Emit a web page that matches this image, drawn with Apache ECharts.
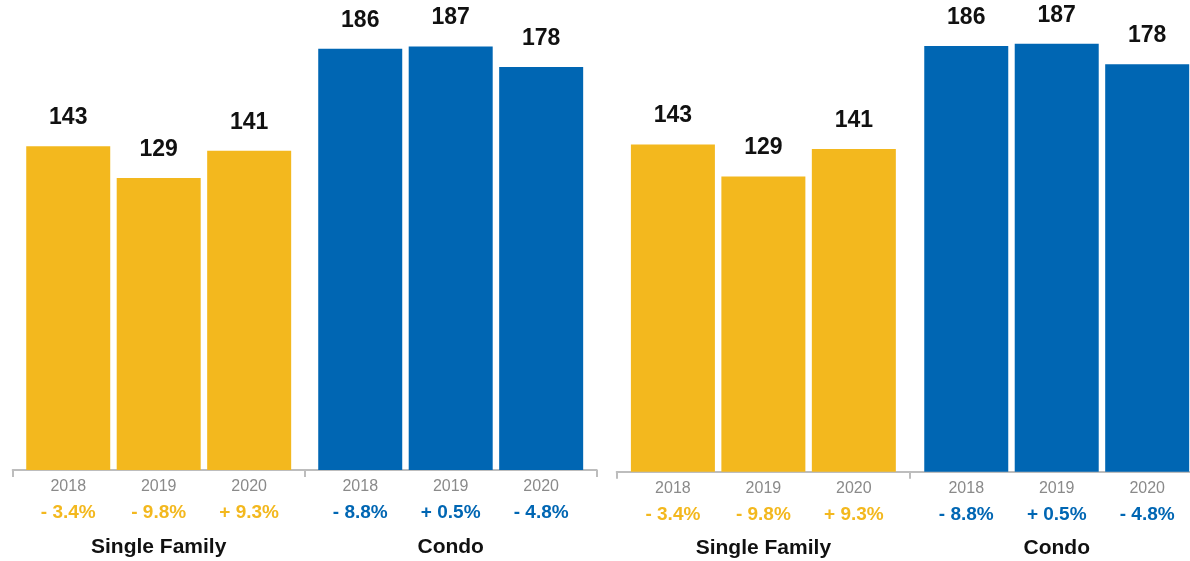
<!DOCTYPE html>
<html>
<head>
<meta charset="utf-8">
<title>Single Family vs Condo</title>
<script src="https://cdn.jsdelivr.net/npm/echarts@6/dist/echarts.min.js"></script>
<style>
  html, body { margin: 0; padding: 0; background: #ffffff; }
  #chart { width: 1190px; height: 561px; }
</style>
</head>
<body>
<div id="chart"></div>
<script>
// Property types along the bottom axis
const categories = ['Single Family', 'Condo'];
// Years shown under each bar
const years = ['2018', '2019', '2020'];
// Bar values per year
const singleFamily = [143, 129, 141];
const condo = [186, 187, 178];
// Year-over-year change labels
const singleFamilyChange = ['- 3.4%', '- 9.8%', '+ 9.3%'];
const condoChange = ['- 8.8%', '+ 0.5%', '- 4.8%'];

const YELLOW = '#F3B81E';
const BLUE = '#0066B3';
const FONT = '"Liberation Sans", Arial, Helvetica, sans-serif';

// Two identical panels side by side; the second runs past the right edge
const panels = [
  { left: 12.7, width: 584, bottom: 91, top: 17.1, axisOffset: 3, labelDist: 5.5 },
  { left: 616.7, width: 586.7, bottom: 89.3, top: 14.0, axisOffset: 2.5, labelDist: 6 }
];

const grid = [], xAxis = [], yAxis = [], series = [];

panels.forEach((p, g) => {
  grid.push({
    left: p.left, width: p.width, top: p.top, bottom: p.bottom,
    containLabel: false,
    outerBoundsMode: 'none'
  });
  xAxis.push({
    type: 'category',
    gridIndex: g,
    data: categories,
    offset: p.axisOffset,
    axisLine: { show: true, lineStyle: { color: '#bdbdbd', width: 2 } },
    axisTick: { show: true, length: 7, lineStyle: { color: '#bdbdbd', width: 2 } },
    axisLabel: {
      margin: 63.5,
      fontFamily: FONT,
      fontSize: 21,
      fontWeight: 'bold',
      color: '#111111'
    }
  });
  yAxis.push({ type: 'value', gridIndex: g, min: 0, max: 200, show: false });

  years.forEach((yr, i) => {
    const stack = 'p' + g + 'y' + i;
    // Zero-height carrier whose label shows the year and the change below the axis
    series.push({
      type: 'bar',
      xAxisIndex: g,
      yAxisIndex: g,
      stack: stack,
      barWidth: 84,
      barGap: '7.7%',
      data: [0, 0],
      itemStyle: { color: 'rgba(0,0,0,0)' },
      silent: true,
      label: {
        show: true,
        position: 'bottom',
        distance: p.labelDist,
        fontFamily: FONT,
        formatter: (params) => {
          const change = params.dataIndex === 0 ? singleFamilyChange[i] : condoChange[i];
          const style = params.dataIndex === 0 ? 'pY' : 'pB';
          return '{y|' + yr + '}\n{' + style + '|' + change + '}';
        },
        rich: {
          y: { fontFamily: FONT, fontSize: 16, color: '#8a8a8a', lineHeight: 22, align: 'center' },
          pY: { fontFamily: FONT, fontSize: 19, fontWeight: 'bold', color: YELLOW, lineHeight: 30, align: 'center' },
          pB: { fontFamily: FONT, fontSize: 19, fontWeight: 'bold', color: BLUE, lineHeight: 30, align: 'center' }
        }
      }
    });
    // The visible bars with their value on top
    series.push({
      type: 'bar',
      name: yr,
      xAxisIndex: g,
      yAxisIndex: g,
      stack: stack,
      barWidth: 84,
      barGap: '7.7%',
      data: [
        { value: singleFamily[i], itemStyle: { color: YELLOW } },
        { value: condo[i], itemStyle: { color: BLUE } }
      ],
      label: {
        show: true,
        position: 'top',
        distance: 17,
        fontFamily: FONT,
        fontSize: 23,
        fontWeight: 'bold',
        color: '#111111',
        formatter: (params) => String(params.dataIndex === 0 ? singleFamily[i] : condo[i])
      }
    });
  });
});

const chart = echarts.init(document.getElementById('chart'), null, { renderer: 'canvas' });
chart.setOption({
  animation: false,
  backgroundColor: '#ffffff',
  grid: grid,
  xAxis: xAxis,
  yAxis: yAxis,
  series: series
});
</script>
</body>
</html>
